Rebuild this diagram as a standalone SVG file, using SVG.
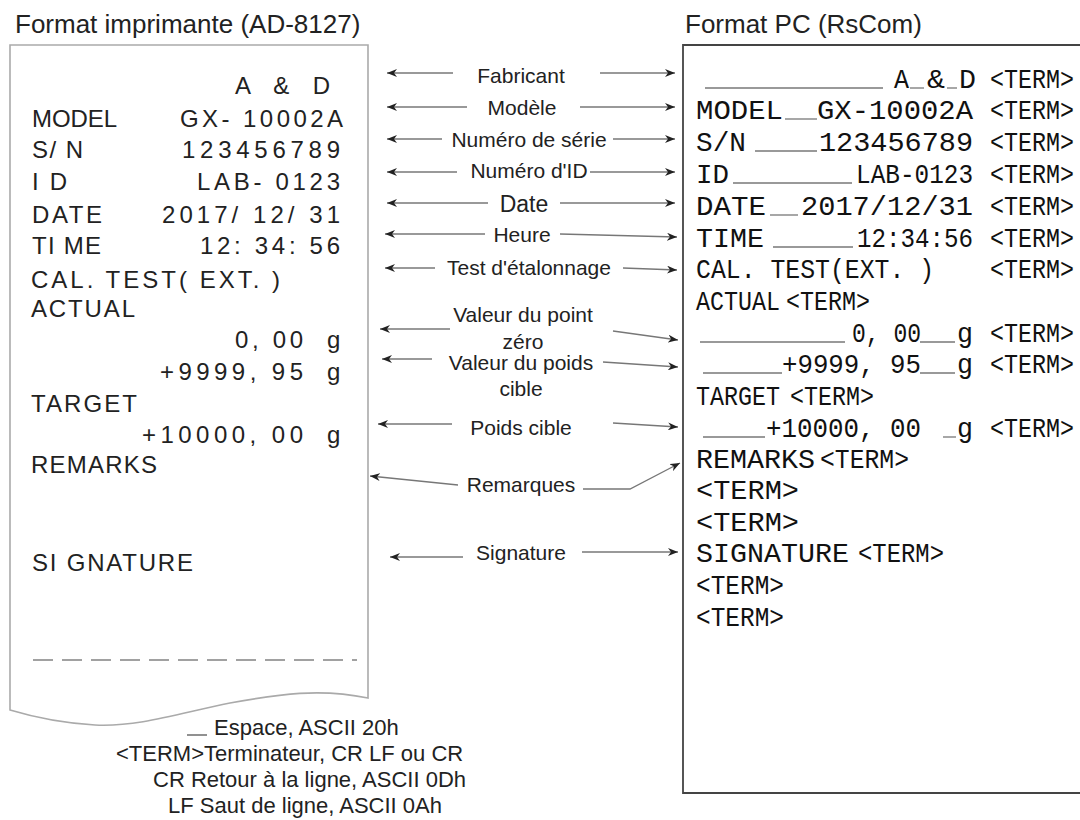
<svg xmlns="http://www.w3.org/2000/svg" width="1080" height="820" viewBox="0 0 1080 820">
<defs>
<marker id="ah" viewBox="0 0 10 8" refX="10" refY="4" markerWidth="10" markerHeight="8" markerUnits="userSpaceOnUse" orient="auto">
<path d="M0,0 L10,4 L0,8 L3,4 Z" fill="#222"/>
</marker>
<style>
.title{font-family:"Liberation Sans",Arial,sans-serif;font-size:26px;fill:#222}
.pr{font-family:"Liberation Sans",Arial,sans-serif;font-size:24px;fill:#222}
.pc{font-family:"Liberation Mono","DejaVu Sans Mono",monospace;font-size:28px;fill:#111}
.lb{font-family:"Liberation Sans",Arial,sans-serif;font-size:21px;fill:#222;text-anchor:middle}
.lg{font-family:"Liberation Sans",Arial,sans-serif;font-size:22px;fill:#222}
.sp{stroke:#777;stroke-width:1.3;fill:none}
.ar{stroke:#777;stroke-width:1.3;fill:none;marker-end:url(#ah)}
</style>
</defs>
<rect width="1080" height="820" fill="#fff"/>

<text class="title" x="15" y="33">Format imprimante (AD-8127)</text>
<text class="title" x="685" y="33">Format PC (RsCom)</text>

<g id="printer">
<path d="M10,45 H368 V698 C320,688 280,694 230,703 C180,713 140,727 95,725 C60,723 30,716 10,710 Z" fill="#fff" stroke="#aaa" stroke-width="1.6"/>
<text class="pr" x="235" y="94" textLength="95" lengthAdjust="spacing">A &amp; D</text>
<text class="pr" x="32" y="127" textLength="85" lengthAdjust="spacing">MODEL</text>
<text class="pr" x="180" y="127" textLength="163" lengthAdjust="spacing">GX- 10002A</text>
<text class="pr" x="32" y="158" textLength="51" lengthAdjust="spacing">S/ N</text>
<text class="pr" x="182" y="158" textLength="158" lengthAdjust="spacing">123456789</text>
<text class="pr" x="32" y="190" textLength="35" lengthAdjust="spacing">I D</text>
<text class="pr" x="197" y="190" textLength="143" lengthAdjust="spacing">LAB- 0123</text>
<text class="pr" x="32" y="223" textLength="70" lengthAdjust="spacing">DATE</text>
<text class="pr" x="162" y="223" textLength="178" lengthAdjust="spacing">2017/ 12/ 31</text>
<text class="pr" x="32" y="254" textLength="69" lengthAdjust="spacing">TI ME</text>
<text class="pr" x="200" y="254" textLength="140" lengthAdjust="spacing">12: 34: 56</text>
<text class="pr" x="31" y="288" textLength="249" lengthAdjust="spacing">CAL. TEST( EXT. )</text>
<text class="pr" x="31" y="317" textLength="104" lengthAdjust="spacing">ACTUAL</text>
<text class="pr" x="235" y="348" textLength="68" lengthAdjust="spacing">0, 00</text>
<text class="pr" x="327" y="348">g</text>
<text class="pr" x="160" y="380" textLength="143" lengthAdjust="spacing">+9999, 95</text>
<text class="pr" x="327" y="380">g</text>
<text class="pr" x="31" y="412" textLength="106" lengthAdjust="spacing">TARGET</text>
<text class="pr" x="142" y="443" textLength="161" lengthAdjust="spacing">+10000, 00</text>
<text class="pr" x="327" y="443">g</text>
<text class="pr" x="31" y="473" textLength="126" lengthAdjust="spacing">REMARKS</text>
<text class="pr" x="32" y="571" textLength="161" lengthAdjust="spacing">SI GNATURE</text>
<line x1="33" y1="660" x2="357" y2="660" stroke="#444" stroke-width="1.2" stroke-dasharray="20 9"/>
</g>

<g id="pc">
<path d="M1085,45 H683 V793 H1085" fill="none" stroke="#444" stroke-width="1.8"/>
<g class="sp">
<line x1="705" y1="88" x2="883" y2="88"/>
<line x1="910" y1="88" x2="924" y2="88"/>
<line x1="947" y1="88" x2="957" y2="88"/>
<line x1="785" y1="119" x2="817" y2="119"/>
<line x1="755" y1="151" x2="817" y2="151"/>
<line x1="733" y1="183" x2="852" y2="183"/>
<line x1="770" y1="215" x2="798" y2="215"/>
<line x1="773" y1="247" x2="853" y2="247"/>
<line x1="700" y1="342" x2="845" y2="342"/>
<line x1="920" y1="342" x2="955" y2="342"/>
<line x1="703" y1="373" x2="782" y2="373"/>
<line x1="920" y1="373" x2="955" y2="373"/>
<line x1="703" y1="437" x2="765" y2="437"/>
<line x1="943" y1="437" x2="956" y2="437"/>
</g>
<text class="pc" x="894" y="88" textLength="15" lengthAdjust="spacingAndGlyphs">A</text>
<text class="pc" x="927" y="88" textLength="18" lengthAdjust="spacingAndGlyphs">&amp;</text>
<text class="pc" x="959" y="88" textLength="17" lengthAdjust="spacingAndGlyphs">D</text>
<text class="pc" x="990" y="88" textLength="84" lengthAdjust="spacingAndGlyphs">&lt;TERM&gt;</text>

<text class="pc" x="696" y="119" textLength="87" lengthAdjust="spacingAndGlyphs">MODEL</text>
<text class="pc" x="817" y="119" textLength="156" lengthAdjust="spacingAndGlyphs">GX-10002A</text>
<text class="pc" x="990" y="119" textLength="84" lengthAdjust="spacingAndGlyphs">&lt;TERM&gt;</text>

<text class="pc" x="696" y="151" textLength="50" lengthAdjust="spacingAndGlyphs">S/N</text>
<text class="pc" x="819" y="151" textLength="154" lengthAdjust="spacingAndGlyphs">123456789</text>
<text class="pc" x="990" y="151" textLength="84" lengthAdjust="spacingAndGlyphs">&lt;TERM&gt;</text>

<text class="pc" x="696" y="183" textLength="33" lengthAdjust="spacingAndGlyphs">ID</text>
<text class="pc" x="856" y="183" textLength="117" lengthAdjust="spacingAndGlyphs">LAB-0123</text>
<text class="pc" x="990" y="183" textLength="84" lengthAdjust="spacingAndGlyphs">&lt;TERM&gt;</text>

<text class="pc" x="696" y="215" textLength="70" lengthAdjust="spacingAndGlyphs">DATE</text>
<text class="pc" x="801" y="215" textLength="172" lengthAdjust="spacingAndGlyphs">2017/12/31</text>
<text class="pc" x="990" y="215" textLength="84" lengthAdjust="spacingAndGlyphs">&lt;TERM&gt;</text>

<text class="pc" x="696" y="247" textLength="68" lengthAdjust="spacingAndGlyphs">TIME</text>
<text class="pc" x="857" y="247" textLength="116" lengthAdjust="spacingAndGlyphs">12:34:56</text>
<text class="pc" x="990" y="247" textLength="84" lengthAdjust="spacingAndGlyphs">&lt;TERM&gt;</text>

<text class="pc" x="696" y="278" textLength="238" lengthAdjust="spacingAndGlyphs">CAL. TEST(EXT. )</text>
<text class="pc" x="990" y="278" textLength="84" lengthAdjust="spacingAndGlyphs">&lt;TERM&gt;</text>

<text class="pc" x="696" y="310" textLength="84" lengthAdjust="spacingAndGlyphs">ACTUAL</text>
<text class="pc" x="786" y="310" textLength="84" lengthAdjust="spacingAndGlyphs">&lt;TERM&gt;</text>

<text class="pc" x="852" y="342" textLength="69" lengthAdjust="spacingAndGlyphs">0, 00</text>
<text class="pc" x="957" y="342" textLength="16" lengthAdjust="spacingAndGlyphs">g</text>
<text class="pc" x="990" y="342" textLength="84" lengthAdjust="spacingAndGlyphs">&lt;TERM&gt;</text>

<text class="pc" x="782" y="373" textLength="139" lengthAdjust="spacingAndGlyphs">+9999, 95</text>
<text class="pc" x="957" y="373" textLength="16" lengthAdjust="spacingAndGlyphs">g</text>
<text class="pc" x="990" y="373" textLength="84" lengthAdjust="spacingAndGlyphs">&lt;TERM&gt;</text>

<text class="pc" x="696" y="405" textLength="84" lengthAdjust="spacingAndGlyphs">TARGET</text>
<text class="pc" x="790" y="405" textLength="84" lengthAdjust="spacingAndGlyphs">&lt;TERM&gt;</text>

<text class="pc" x="766" y="437" textLength="155" lengthAdjust="spacingAndGlyphs">+10000, 00</text>
<text class="pc" x="957" y="437" textLength="16" lengthAdjust="spacingAndGlyphs">g</text>
<text class="pc" x="990" y="437" textLength="84" lengthAdjust="spacingAndGlyphs">&lt;TERM&gt;</text>

<text class="pc" x="696" y="468" textLength="119" lengthAdjust="spacingAndGlyphs">REMARKS</text>
<text class="pc" x="820" y="468" textLength="89" lengthAdjust="spacingAndGlyphs">&lt;TERM&gt;</text>

<text class="pc" x="696" y="499" textLength="103" lengthAdjust="spacingAndGlyphs">&lt;TERM&gt;</text>
<text class="pc" x="696" y="531" textLength="103" lengthAdjust="spacingAndGlyphs">&lt;TERM&gt;</text>

<text class="pc" x="696" y="562" textLength="153" lengthAdjust="spacingAndGlyphs">SIGNATURE</text>
<text class="pc" x="858" y="562" textLength="86" lengthAdjust="spacingAndGlyphs">&lt;TERM&gt;</text>

<text class="pc" x="696" y="594" textLength="88" lengthAdjust="spacingAndGlyphs">&lt;TERM&gt;</text>
<text class="pc" x="696" y="626" textLength="88" lengthAdjust="spacingAndGlyphs">&lt;TERM&gt;</text>
</g>

<g id="labels">
<text class="lb" x="521" y="83">Fabricant</text>
<text class="lb" x="522" y="115">Modèle</text>
<text class="lb" x="529" y="147">Numéro de série</text>
<text class="lb" x="529" y="178">Numéro d'ID</text>
<text class="lb" x="524" y="212" style="font-size:23px">Date</text>
<text class="lb" x="522" y="242">Heure</text>
<text class="lb" x="529" y="275">Test d'étalonnage</text>
<text class="lb" x="523" y="322">Valeur du point</text>
<text class="lb" x="523" y="349">zéro</text>
<text class="lb" x="521" y="370">Valeur du poids</text>
<text class="lb" x="521" y="396">cible</text>
<text class="lb" x="521" y="435">Poids cible</text>
<text class="lb" x="521" y="492">Remarques</text>
<text class="lb" x="521" y="560">Signature</text>
</g>

<g id="connectors">
<line class="ar" x1="453" y1="73" x2="387" y2="73"/>
<line class="ar" x1="600" y1="73" x2="675" y2="73"/>
<line class="ar" x1="467" y1="107" x2="387" y2="107"/>
<line class="ar" x1="580" y1="107" x2="675" y2="107"/>
<line class="ar" x1="442" y1="139" x2="387" y2="139"/>
<line class="ar" x1="613" y1="139" x2="675" y2="139"/>
<line class="ar" x1="457" y1="172" x2="387" y2="172"/>
<line class="ar" x1="590" y1="172" x2="675" y2="172"/>
<line class="ar" x1="488" y1="203" x2="387" y2="203"/>
<line class="ar" x1="560" y1="203" x2="675" y2="203"/>
<line class="ar" x1="485" y1="234" x2="385" y2="234"/>
<line class="ar" x1="560" y1="234" x2="677" y2="237"/>
<line class="ar" x1="435" y1="268" x2="385" y2="268"/>
<line class="ar" x1="623" y1="268" x2="677" y2="270"/>
<line class="ar" x1="450" y1="329" x2="380" y2="329"/>
<line class="ar" x1="613" y1="331" x2="678" y2="340"/>
<line class="ar" x1="432" y1="359" x2="382" y2="359"/>
<line class="ar" x1="603" y1="362" x2="678" y2="367"/>
<line class="ar" x1="452" y1="424" x2="378" y2="424"/>
<line class="ar" x1="613" y1="423" x2="678" y2="427"/>
<line class="ar" x1="458" y1="485" x2="370" y2="476"/>
<polyline class="ar" points="583,489 630,489 680,463"/>
<line class="ar" x1="463" y1="557" x2="390" y2="557"/>
<line class="ar" x1="582" y1="552" x2="678" y2="552"/>
</g>

<g id="legend">
<line x1="187" y1="735" x2="207" y2="735" stroke="#555" stroke-width="1.3"/>
<text class="lg" x="214" y="735">Espace, ASCII 20h</text>
<text class="lg" x="116" y="761">&lt;TERM&gt;Terminateur, CR LF ou CR</text>
<text class="lg" x="153" y="787">CR Retour à la ligne, ASCII 0Dh</text>
<text class="lg" x="168" y="813">LF Saut de ligne, ASCII 0Ah</text>
</g>
</svg>
